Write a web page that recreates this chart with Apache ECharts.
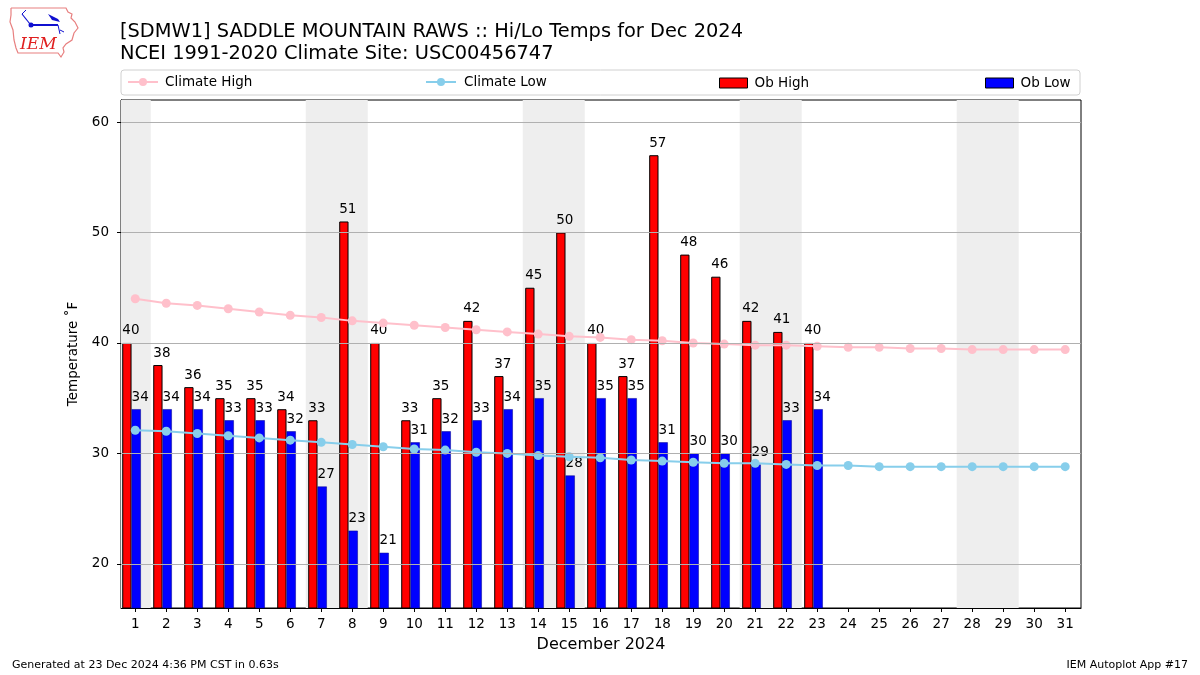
<!DOCTYPE html>
<html><head><meta charset="utf-8">
<script src="https://cdn.jsdelivr.net/npm/echarts@6/dist/echarts.min.js"></script>
<style>html,body{margin:0;padding:0;background:#fff}#c{width:1200px;height:675px}</style>
</head><body><div id="c"></div>
<script>
const days = [1,2,3,4,5,6,7,8,9,10,11,12,13,14,15,16,17,18,19,20,21,22,23,24,25,26,27,28,29,30,31];
const obHigh = [40,38,36,35,35,34,33,51,40,33,35,42,37,45,50,40,37,57,48,46,42,41,40];
const obLow  = [34,34,34,33,33,32,27,23,21,31,32,33,34,35,28,35,35,31,30,30,29,33,34];
const climateHigh = [44.0,43.6,43.4,43.1,42.8,42.5,42.3,42.0,41.8,41.6,41.4,41.2,41.0,40.8,40.6,40.5,40.3,40.2,40.0,39.9,39.8,39.8,39.7,39.6,39.6,39.5,39.5,39.4,39.4,39.4,39.4];
const climateLow  = [32.1,32.0,31.8,31.6,31.4,31.2,31.0,30.8,30.6,30.4,30.3,30.1,30.0,29.8,29.7,29.6,29.4,29.3,29.2,29.1,29.1,29.0,28.9,28.9,28.8,28.8,28.8,28.8,28.8,28.8,28.8];
const yTicks = [20,30,40,50,60];
const weekendStarts = [1,7,14,21,28]; // Saturday/Sunday bands
const weekendEnds   = [1,8,15,22,29];

const xMin = 0.54, xMax = 31.51, yMin = 16, yMax = 62;
const FONT = 'DejaVu Sans';

const chart = echarts.init(document.getElementById('c'), null, {renderer:'canvas'});

const bands = weekendStarts.map((s,i)=>[{xAxis: Math.max(xMin, s-0.5)}, {xAxis: weekendEnds[i]+0.5}]);

const option = {
  animation: false,
  backgroundColor: '#fff',
  textStyle: {fontFamily: FONT},
  title: [
    {text: '[SDMW1] SADDLE MOUNTAIN RAWS :: Hi/Lo Temps for Dec 2024', left: 115, top: 17,
     textStyle: {fontFamily: FONT, fontSize: 19.4, fontWeight: 'normal', color: '#000'}},
    {text: 'NCEI 1991-2020 Climate Site: USC00456747', left: 115, top: 39,
     textStyle: {fontFamily: FONT, fontSize: 19.4, fontWeight: 'normal', color: '#000'}}
  ],
  legend: [
    {data: ['Climate High'], left: 122, top: 70, itemWidth: 30, itemHeight: 10, itemGap: 8,
     textStyle: {fontFamily: FONT, fontSize: 13.5, color: '#000', padding: [0,0,0,2]}},
    {data: ['Climate Low'], left: 420, top: 70, itemWidth: 30, itemHeight: 10,
     textStyle: {fontFamily: FONT, fontSize: 13.5, color: '#000', padding: [0,0,0,3]}},
    {data: [{name: 'Ob High', icon: 'rect', itemStyle: {borderColor: '#000', borderWidth: 1}}], left: 714, top: 71, itemWidth: 28, itemHeight: 10, itemGap: 10,
     textStyle: {fontFamily: FONT, fontSize: 13.5, color: '#000', padding: [0,0,0,2]}},
    {data: [{name: 'Ob Low', icon: 'rect', itemStyle: {borderColor: '#000', borderWidth: 1}}], left: 980, top: 71, itemWidth: 28, itemHeight: 10,
     textStyle: {fontFamily: FONT, fontSize: 13.5, color: '#000', padding: [0,0,0,2]}}
  ],
  grid: {left: 121, right: 119, top: 100, bottom: 67, show: true, borderColor: '#000', borderWidth: 1, backgroundColor: 'transparent'},
  xAxis: {
    type: 'value', min: xMin, max: xMax,
    name: 'December 2024', nameLocation: 'middle', nameGap: 29,
    nameTextStyle: {fontFamily: FONT, fontSize: 16, color: '#000'},
    axisLine: {show: true, onZero: false, lineStyle: {color: '#000', width: 1}},
    axisTick: {show: true, length: 4, customValues: days, lineStyle: {color: '#000'}},
    axisLabel: {show: true, customValues: days, margin: 9, fontFamily: FONT, fontSize: 13.5, color: '#000'},
    splitLine: {show: false}
  },
  yAxis: {
    type: 'value', min: yMin, max: yMax,
    name: 'Temperature ˚F', nameLocation: 'middle', nameGap: 38,
    nameTextStyle: {fontFamily: FONT, fontSize: 13.5, color: '#000'},
    axisLine: {show: true, onZero: false, lineStyle: {color: '#000', width: 1}},
    axisTick: {show: true, length: 4, customValues: yTicks, lineStyle: {color: '#000'}},
    axisLabel: {show: true, customValues: yTicks, margin: 12, fontFamily: FONT, fontSize: 13.5, color: '#000'},
    splitLine: {show: false}
  },
  graphic: [
    {type: 'rect', shape: {x: 121, y: 70, width: 959, height: 25, r: 3}, style: {fill: '#fff', stroke: '#d0d0d0', lineWidth: 1}, z: -1},
    // IEM logo
    {type: 'polyline', shape: {points: [[11,8],[66,8],[68,12],[72,14],[71,18],[75,22],[78,28],[74,33],[72,40],[66,44],[63,48],[64,52],[61,57],[58,53],[18,53],[16,48],[14,40],[13,30],[10,22],[11,15],[11,8]]},
     style: {stroke: '#e88080', fill: 'none', lineWidth: 1.2}},
    {type: 'line', shape: {x1: 30, y1: 25, x2: 58, y2: 25}, style: {stroke: '#1010d0', lineWidth: 2}},
    {type: 'circle', shape: {cx: 31, cy: 25, r: 2.5}, style: {fill: '#1010d0'}},
    {type: 'line', shape: {x1: 22, y1: 14, x2: 30, y2: 24}, style: {stroke: '#1010d0', lineWidth: 1.2}},
    {type: 'line', shape: {x1: 22, y1: 14, x2: 26, y2: 10}, style: {stroke: '#1010d0', lineWidth: 1}},
    {type: 'polygon', shape: {points: [[48,14],[58,19],[60,22],[52,20]]}, style: {fill: '#1010d0'}},
    {type: 'line', shape: {x1: 58, y1: 25, x2: 60, y2: 34}, style: {stroke: '#1010d0', lineWidth: 1}},
    {type: 'line', shape: {x1: 60, y1: 30, x2: 64, y2: 32}, style: {stroke: '#1010d0', lineWidth: 1}},
    {type: 'text', x: 20, y: 36, style: {text: 'IEM', fontFamily: 'DejaVu Serif', fontStyle: 'italic', fontSize: 17, fill: '#e02020'}},
    // footer
    {type: 'text', left: 12, top: 660, style: {text: 'Generated at 23 Dec 2024 4:36 PM CST in 0.63s', fontFamily: FONT, fontSize: 11, fill: '#000'}},
    {type: 'text', right: 12, top: 660, style: {text: 'IEM Autoplot App #17', fontFamily: FONT, fontSize: 11, fill: '#000'}}
  ],
  series: [
    {name: 'weekends', type: 'line', data: [], z: 0, silent: true,
     markArea: {silent: true, itemStyle: {color: '#eeeeee'}, data: bands}},
    {name: 'grid', type: 'line', data: [], z: 1, silent: true,
     markLine: {silent: true, symbol: 'none', label: {show: false}, animation: false,
       lineStyle: {color: '#b0b0b0', width: 1, type: 'solid'},
       data: yTicks.map(v=>({yAxis: v}))}},
    {name: 'Ob High', type: 'bar', z: 3, barWidth: 9.3, barGap: '-100%',
     itemStyle: {color: '#ff0000', borderColor: '#000', borderWidth: 1},
     label: {show: true, position: 'top', distance: 5, offset: [4, 0], fontFamily: FONT, fontSize: 13.5, color: '#000',
       formatter: p => p.value[1]},
     data: obHigh.map((v,i)=>[days[i]-0.27, v])},
    {name: 'Ob Low', type: 'bar', z: 3, barWidth: 9.3, barGap: '-100%',
     itemStyle: {color: '#0000ff', borderColor: '#00008a', borderWidth: 0.5},
     label: {show: true, position: 'top', distance: 5, offset: [4, 0], fontFamily: FONT, fontSize: 13.5, color: '#000',
       formatter: p => p.value[1]},
     data: obLow.map((v,i)=>[days[i]+0.03, v])},
    {name: 'Climate High', type: 'line', z: 4, symbol: 'circle', symbolSize: 9,
     lineStyle: {color: '#ffc0cb', width: 2}, itemStyle: {color: '#ffc0cb'},
     data: climateHigh.map((v,i)=>[days[i], v])},
    {name: 'Climate Low', type: 'line', z: 4, symbol: 'circle', symbolSize: 9,
     lineStyle: {color: '#87ceeb', width: 2}, itemStyle: {color: '#87ceeb'},
     data: climateLow.map((v,i)=>[days[i], v])}
  ]
};
chart.setOption(option);
</script></body></html>
